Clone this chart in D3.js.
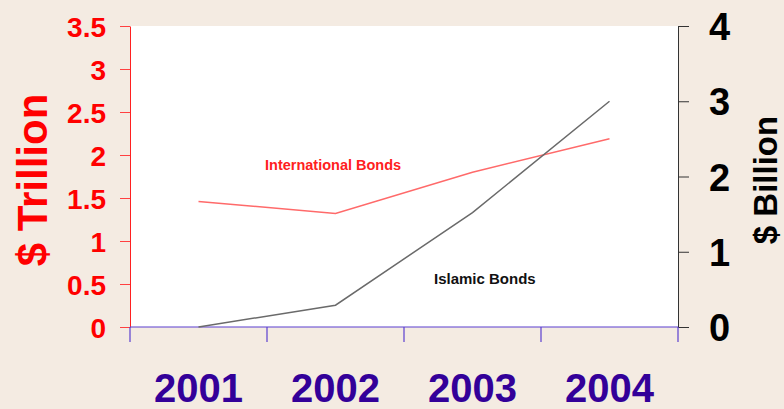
<!DOCTYPE html>
<html>
<head>
<meta charset="utf-8">
<script src="https://cdn.jsdelivr.net/npm/d3@7"></script>
<style>
  body { margin: 0; background: #f4ebe2; }
  svg { display: block; font-family: Arial, "Liberation Sans", sans-serif; font-weight: bold; }
</style>
</head>
<body>
<svg id="chart" width="784" height="409"></svg>
<script>
// Bond issuance, international ($ trillion, left) vs islamic ($ billion, right)
var years = ["2001", "2002", "2003", "2004"];
var internationalBonds = [1.46, 1.32, 1.80, 2.19];
var islamicBonds = [0.0, 0.29, 1.52, 3.0];
var leftTicks = [0, 0.5, 1, 1.5, 2, 2.5, 3, 3.5];
var rightTicks = [0, 1, 2, 3, 4];

var svg = d3.select("#chart");
// note: "top" is taken by window.top, so use plot* names
var plotLeft = 130, plotRight = 678, plotTop = 26, plotBottom = 327;

var x = d3.scaleBand().domain(years).range([plotLeft, plotRight]).padding(0);
var yL = d3.scaleLinear().domain([0, 3.5]).range([plotBottom, plotTop]);
var yR = d3.scaleLinear().domain([0, 4]).range([plotBottom, plotTop]);

// White plot area
svg.append("rect")
    .attr("x", plotLeft).attr("y", plotTop)
    .attr("width", plotRight - plotLeft).attr("height", plotBottom - plotTop)
    .attr("fill", "#ffffff");

// Left axis (red)
var gL = svg.append("g")
    .attr("transform", "translate(" + plotLeft + ",0)")
    .call(d3.axisLeft(yL).tickValues(leftTicks).tickSize(10).tickSizeOuter(0).tickPadding(14)
        .tickFormat(function (d) { return d; }));
gL.select(".domain").attr("stroke", "#ff2020");
gL.selectAll(".tick line").attr("stroke", "#ff4040");
gL.selectAll(".tick text")
    .attr("fill", "#ff0000").attr("font-size", 28).attr("font-family", null)
    .attr("dy", "0.36em");

// Right axis (black)
var gR = svg.append("g")
    .attr("transform", "translate(" + plotRight + ",0)")
    .call(d3.axisRight(yR).tickValues(rightTicks).tickSize(11).tickSizeOuter(0).tickPadding(20)
        .tickFormat(d3.format("d")));
gR.select(".domain").attr("stroke", "#333333");
gR.selectAll(".tick line").attr("stroke", "#333333");
gR.selectAll(".tick text")
    .attr("fill", "#000000").attr("font-size", 38).attr("font-family", null)
    .attr("dy", "0.36em");

// Bottom axis (blue): ticks at category edges, labels at centres
var edges = years.map(function (d) { return x(d); }).concat([x(years[years.length - 1]) + x.bandwidth()]);
svg.append("line")
    .attr("x1", plotLeft).attr("x2", plotRight)
    .attr("y1", plotBottom).attr("y2", plotBottom)
    .attr("stroke", "#5a3fd0").attr("stroke-width", 1.2);
svg.selectAll(".xtick").data(edges).enter().append("line")
    .attr("class", "xtick")
    .attr("x1", function (d) { return d; }).attr("x2", function (d) { return d; })
    .attr("y1", plotBottom).attr("y2", plotBottom + 15)
    .attr("stroke", "#5a3fd0").attr("stroke-width", 1.2);
svg.selectAll(".xlabel").data(years).enter().append("text")
    .attr("class", "xlabel")
    .attr("x", function (d) { return x(d) + x.bandwidth() / 2; })
    .attr("y", 402)
    .attr("text-anchor", "middle")
    .attr("font-size", 40)
    .attr("fill", "#330099")
    .text(function (d) { return d; });

// Lines
var lineL = d3.line()
    .x(function (d, i) { return x(years[i]) + x.bandwidth() / 2; })
    .y(function (d) { return yL(d); });
var lineR = d3.line()
    .x(function (d, i) { return x(years[i]) + x.bandwidth() / 2; })
    .y(function (d) { return yR(d); });

svg.append("path")
    .datum(internationalBonds)
    .attr("d", lineL)
    .attr("fill", "none").attr("stroke", "#ff6a6a").attr("stroke-width", 1.5);
svg.append("path")
    .datum(islamicBonds)
    .attr("d", lineR)
    .attr("fill", "none").attr("stroke", "#6a6a6a").attr("stroke-width", 1.5);

// Series labels
svg.append("text")
    .attr("x", 265).attr("y", 170)
    .attr("font-size", 14.5).attr("fill", "#ff2020")
    .text("International Bonds");
svg.append("text")
    .attr("x", 434).attr("y", 284)
    .attr("font-size", 15).attr("fill", "#111111")
    .text("Islamic Bonds");

// Axis titles
svg.append("text")
    .attr("transform", "translate(47,180) rotate(-90)")
    .attr("text-anchor", "middle")
    .attr("font-size", 42).attr("fill", "#ff0000")
    .text("$ Trillion");
svg.append("text")
    .attr("transform", "translate(777,180) rotate(-90)")
    .attr("text-anchor", "middle")
    .attr("font-size", 33).attr("fill", "#000000")
    .text("$ Billion");
</script>
</body>
</html>
